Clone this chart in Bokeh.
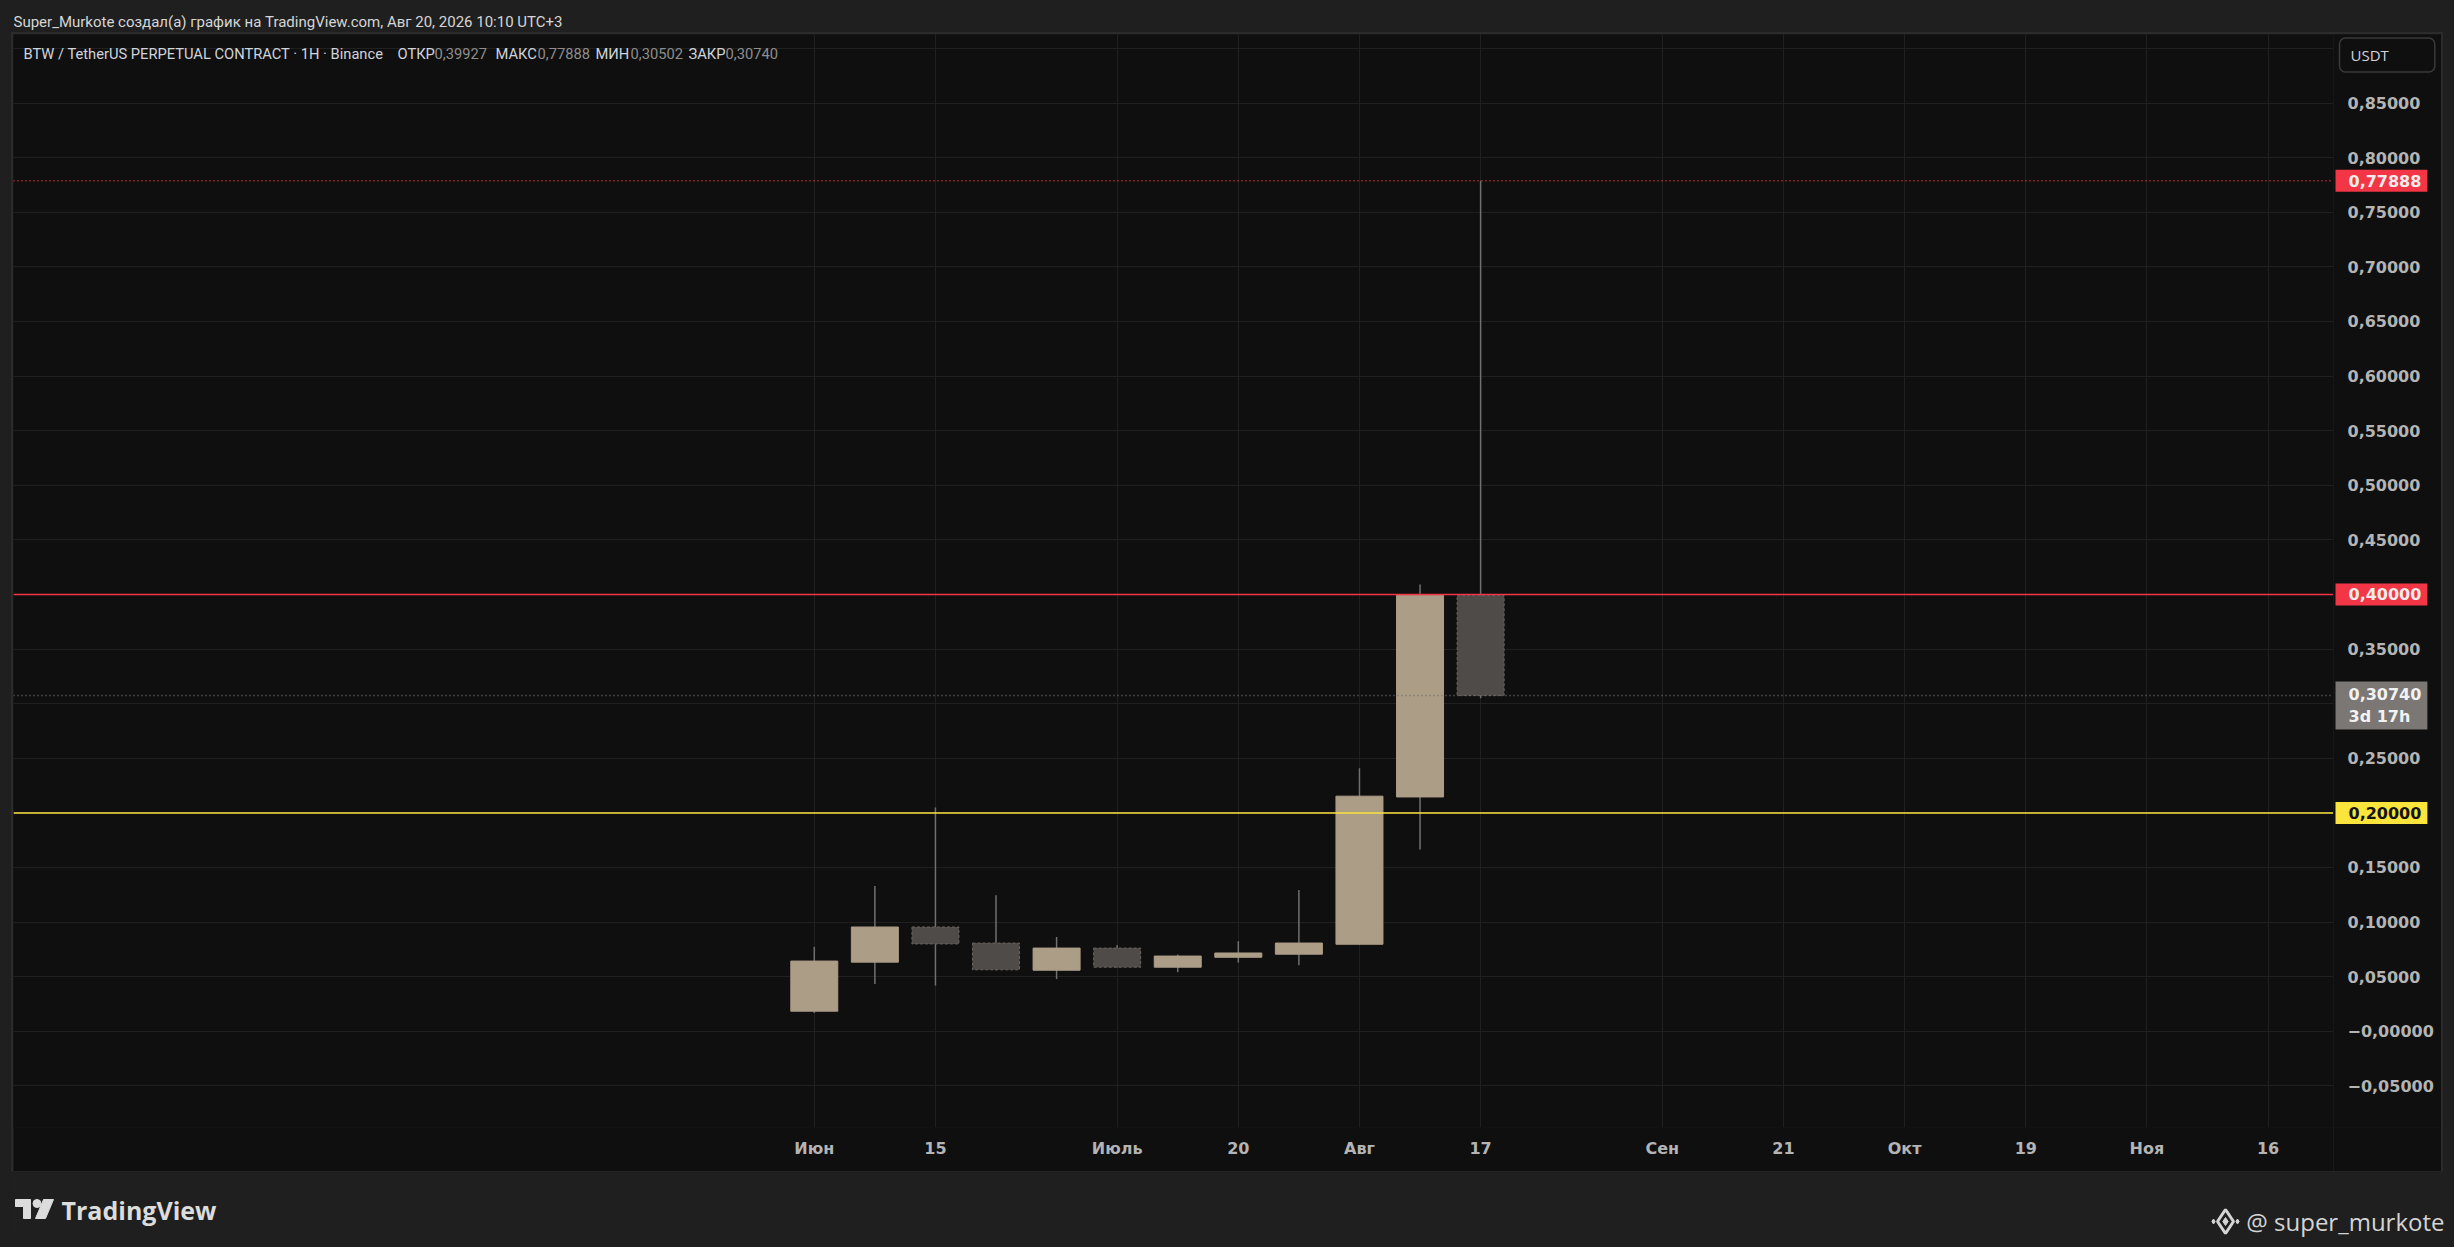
import numpy as np
import pandas as pd
from bokeh.plotting import figure
from bokeh.models import FixedTicker, Span, Label, ColumnDataSource, Spacer, Range1d
from bokeh.layouts import column, row
from bokeh.embed import file_html
from bokeh.resources import INLINE
from bokeh.core.properties import value

# ---------------- data ----------------
dates = ["2026-06-01", "2026-06-08", "2026-06-15", "2026-06-22", "2026-06-29", "2026-07-06",
         "2026-07-13", "2026-07-20", "2026-07-27", "2026-08-03", "2026-08-10", "2026-08-17"]
opens = [0.0184, 0.0633, 0.0955, 0.0808, 0.0559, 0.0762, 0.0587, 0.0678, 0.0706, 0.0797, 0.2146, 0.39927]
highs = [0.0773, 0.1330, 0.2050, 0.1246, 0.0864, 0.0790, 0.0703, 0.0825, 0.1295, 0.2409, 0.4091, 0.77888]
lows = [0.0167, 0.0433, 0.0419, 0.0560, 0.0478, 0.0585, 0.0542, 0.0629, 0.0605, 0.0795, 0.1665, 0.30502]
closes = [0.0643, 0.0955, 0.0800, 0.0563, 0.0762, 0.0587, 0.0689, 0.0717, 0.0808, 0.2153, 0.3993, 0.30740]

tick_dates = ["2026-06-01", "2026-06-15", "2026-07-06", "2026-07-20", "2026-08-03", "2026-08-17",
              "2026-09-07", "2026-09-21", "2026-10-05", "2026-10-19", "2026-11-02", "2026-11-16"]
tick_labels = ["Июн", "15", "Июль", "20", "Авг", "17", "Сен", "21", "Окт", "19", "Ноя", "16"]

price_ticks = [-0.05, 0.0, 0.05, 0.10, 0.15, 0.20, 0.25, 0.30, 0.35, 0.40, 0.45,
               0.50, 0.55, 0.60, 0.65, 0.70, 0.75, 0.80, 0.85, 0.90]

resistance = 0.40
support = 0.20
time_left = "3d 17h"
currency = "USDT"
header_text = "Super_Murkote создал(а) график на TradingView.com, Авг 20, 2026 10:10 UTC+3"
symbol_text = "BTW / TetherUS PERPETUAL CONTRACT · 1H · Binance"
author = "@ super_murkote"


def fmt(v):
    s = f"{abs(v):.5f}".replace(".", ",")
    return ("−" + s) if v <= 0 else s


# ---------------- styling ----------------
BG = "#0f0f0f"
OUTER = "#1f1f1f"
GRID = "#202020"
BULL = "#ac9d87"
BEAR = "#4f4b48"
BEAR_LINE = "#6a6561"
WICK = "#707070"
RED = "#f23645"
YELLOW = "#fbe43c"
AXIS_TXT = "#b4b4b4"

W_TOTAL = 2438
MAIN_W, MAIN_H = 2320, 1137
PRICE_W = 108
FRAME_H = 1093

base = pd.Timestamp(dates[0])
xs = [(pd.Timestamp(d) - base).days / 7.0 for d in dates]
tick_x = [(pd.Timestamp(d) - base).days / 7.0 for d in tick_dates]
yticks = [float(np.round(t, 2)) for t in price_ticks]

y_range = Range1d(-0.0881, 0.9128)


def plain(fig, bg):
    fig.background_fill_color = bg
    fig.border_fill_color = bg
    fig.outline_line_color = None
    fig.grid.visible = False


# ---------------- header ----------------
hdr = figure(width=W_TOTAL, height=26, x_range=Range1d(0, W_TOTAL), y_range=Range1d(0, 26),
             x_axis_location=None, y_axis_location=None, toolbar_location=None,
             output_backend="svg", min_border=0)
plain(hdr, OUTER)
hdr.text(x=[5], y=[13], text=[header_text], text_font=value("Roboto"), text_font_size="15px",
         text_baseline="middle", text_align="left", text_color="#d6d6d6")

# ---------------- main chart ----------------
p = figure(width=MAIN_W, height=MAIN_H, x_range=Range1d(-13.22, 25.08), y_range=y_range,
           y_axis_location=None, toolbar_location=None, output_backend="svg", title=None,
           min_border_left=0, min_border_top=0, min_border_right=0, min_border_bottom=44)
p.background_fill_color = BG
p.border_fill_color = BG
p.outline_line_color = None

p.xaxis.ticker = FixedTicker(ticks=tick_x)
p.xaxis.major_label_overrides = {float(t): l for t, l in zip(tick_x, tick_labels)}
ax = p.xaxis[0]
ax.axis_line_color = None
ax.major_tick_line_color = None
ax.minor_tick_line_color = None
ax.major_tick_out = 0
ax.major_tick_in = 0
ax.major_label_text_color = AXIS_TXT
ax.major_label_text_font = "DejaVu Sans"
ax.major_label_text_font_size = "16px"
ax.major_label_text_font_style = "bold"
ax.major_label_standoff = 11

p.xgrid.grid_line_color = GRID
p.ygrid.grid_line_color = GRID
p.ygrid.ticker = FixedTicker(ticks=yticks)

bull = [i for i in range(len(dates)) if closes[i] >= opens[i]]
bear = [i for i in range(len(dates)) if closes[i] < opens[i]]


def mk(idx):
    return ColumnDataSource(dict(
        x=[xs[i] for i in idx],
        high=[highs[i] for i in idx],
        low=[lows[i] for i in idx],
        top=[max(opens[i], closes[i]) for i in idx],
        bottom=[min(opens[i], closes[i]) for i in idx],
    ))


src_bull, src_bear = mk(bull), mk(bear)
for s in (src_bull, src_bear):
    p.segment(x0="x", y0="low", x1="x", y1="high", source=s, line_color=WICK, line_width=1.5)
p.vbar(x="x", width=0.776, top="top", bottom="bottom", source=src_bull,
       fill_color=BULL, line_color=BULL, line_width=1)
p.vbar(x="x", width=0.776, top="top", bottom="bottom", source=src_bear,
       fill_color=BEAR, line_color=BEAR_LINE, line_width=1, line_dash="3 2")

p.add_layout(Span(location=resistance, dimension="width", line_color=RED, line_width=1.5))
p.add_layout(Span(location=support, dimension="width", line_color=YELLOW, line_width=1.5))
p.add_layout(Span(location=highs[-1], dimension="width", line_color=RED, line_width=1.5,
                  line_dash="1 3"))
p.add_layout(Span(location=closes[-1], dimension="width", line_color="#6e6e6e", line_width=1.5,
                  line_dash="1 3"))

# symbol legend (inside plot, top-left)
leg_y = FRAME_H - 19
segments = [
    (10, symbol_text, "#d1d4dc"),
    (384, "ОТКР", "#d1d4dc"), (421, fmt(opens[-1]), "#8e8e8e"),
    (482, "МАКС", "#d1d4dc"), (524, fmt(highs[-1]), "#8e8e8e"),
    (582, "МИН", "#d1d4dc"), (617, fmt(lows[-1]), "#8e8e8e"),
    (675, "ЗАКР", "#d1d4dc"), (712, fmt(closes[-1]), "#8e8e8e"),
]
for sx, t, c in segments:
    p.add_layout(Label(x=sx, y=leg_y, x_units="screen", y_units="screen", text=t,
                       text_font="Roboto", text_font_size="14.7px", text_color=c,
                       text_baseline="middle", text_align="left"))

# ---------------- price scale column ----------------
pc = figure(width=PRICE_W, height=MAIN_H, x_range=Range1d(0, PRICE_W), y_range=y_range,
            x_axis_location=None, y_axis_location=None, toolbar_location=None,
            output_backend="svg", min_border_left=0, min_border_top=0, min_border_right=0,
            min_border_bottom=44)
plain(pc, BG)
pc.text(x=[14] * len(yticks), y=yticks, text=[fmt(t) for t in price_ticks],
        text_font=value("DejaVu Sans"), text_font_style="bold", text_font_size="16px",
        text_color=AXIS_TXT, text_baseline="middle", text_align="left")


def badge(y, text, bg, fg, baseline="middle", yoff=0, pad_v=5):
    pc.add_layout(Label(x=2, y=y, x_units="screen", y_units="data", text=text,
                        text_font="DejaVu Sans", text_font_size="16px", text_font_style="bold",
                        text_color=fg, text_baseline=baseline, text_align="left",
                        background_fill_color=bg, y_offset=yoff,
                        padding=dict(left=13, right=6, top=pad_v, bottom=pad_v)))


badge(highs[-1], fmt(highs[-1]), RED, "#f4ecec")
badge(resistance, fmt(resistance), RED, "#f4ecec")
badge(support, fmt(support), YELLOW, "#131313")
badge(closes[-1], fmt(closes[-1]) + "\n" + time_left, "#7a7774", "#f2f2f2",
      baseline="top", yoff=14, pad_v=3)

pc.add_layout(Label(x=6, y=FRAME_H - 20.5, x_units="screen", y_units="screen",
                    text=currency, text_font="Open Sans", text_font_size="15px",
                    text_color="#d1d4dc", text_baseline="middle", text_align="left",
                    background_fill_color=BG, border_line_color="#3a3a3a", border_line_width=1.5,
                    border_radius=6, padding=dict(left=11, right=46, top=7, bottom=7)))

# ---------------- footer ----------------
ftr = figure(width=W_TOTAL, height=68, x_range=Range1d(0, W_TOTAL), y_range=Range1d(0, 68),
             x_axis_location=None, y_axis_location=None, toolbar_location=None,
             output_backend="svg", min_border=0)
plain(ftr, OUTER)
LOGO = "#dcdcdc"
ftr.patch(x=[7, 22, 22, 15, 15, 7], y=[40, 40, 21, 21, 33, 33], fill_color=LOGO, line_color=LOGO)
ftr.scatter(x=[28.5], y=[36], size=8, marker="circle", fill_color=LOGO, line_color=LOGO)
ftr.patch(x=[35, 45, 37, 27], y=[40, 40, 21, 21], fill_color=LOGO, line_color=LOGO)
ftr.text(x=[53], y=[30], text=["TradingView"], text_font=value("Open Sans"),
         text_font_style="bold", text_font_size="25px", text_baseline="middle",
         text_align="left", text_color=LOGO)
ftr.text(x=[2436], y=[18], text=[author], text_font=value("Open Sans"),
         text_font_size="24px", text_baseline="middle", text_align="right", text_color="#d4d4d4")
ftr.scatter(x=[2217], y=[18], size=24, marker="diamond", fill_color=None, line_color="#d4d4d4",
            line_width=3)
ftr.scatter(x=[2217], y=[18], size=8, marker="diamond", fill_color="#d4d4d4", line_color="#d4d4d4")
ftr.scatter(x=[2205, 2229], y=[18, 18], size=5, marker="diamond", fill_color="#d4d4d4",
            line_color="#d4d4d4")

panel = row(p, pc, styles={"outline": "2px solid #2b2b2b"})
layout = column(hdr, row(Spacer(width=5, height=MAIN_H), panel), ftr)

html = file_html(layout, INLINE)
html = html.replace("</head>", "<style>html,body{background:#1f1f1f;margin:0;}body{margin:8px;}</style></head>", 1)
open("out.html", "w").write(html)
